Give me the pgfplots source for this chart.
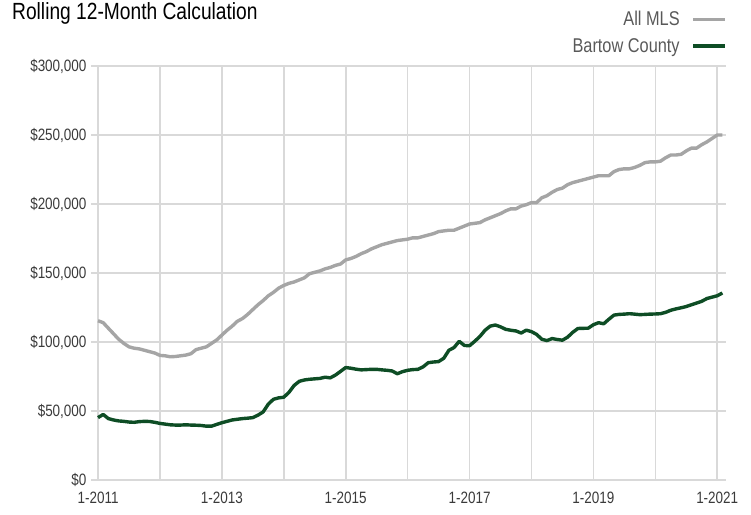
\documentclass[border=0pt]{standalone}
\usepackage{fontspec}
\setmainfont{Liberation Sans}[FakeStretch=0.82]
\usepackage{pgfplots}
\usepackage{pgfplotstable}
\pgfplotsset{compat=1.18}
\definecolor{mlsgray}{HTML}{A5A5A5}
\definecolor{bartow}{HTML}{0E4D25}
\definecolor{gridc}{HTML}{D9D9D9}
\definecolor{labc}{HTML}{3A3A3A}
\definecolor{legc}{HTML}{595959}

\pgfplotstableread{
m v
0 115400
1 114000
2 110000
3 106000
4 102000
5 99000
6 96500
7 95500
8 95000
9 94000
10 93000
11 92000
12 90300
13 90000
14 89300
15 89500
16 90000
17 90500
18 91500
19 94500
20 95500
21 96500
22 99000
23 101500
24 105000
25 108500
26 111500
27 115000
28 117000
29 120000
30 123500
31 127000
32 130000
33 133500
34 136000
35 139000
36 141000
37 142500
38 143500
39 145000
40 146500
41 149500
42 150500
43 151500
44 153000
45 154000
46 155500
47 156500
48 159500
49 160500
50 162000
51 164000
52 165500
53 167500
54 169000
55 170500
56 171500
57 172500
58 173500
59 174000
60 174500
61 175500
62 175500
63 176500
64 177500
65 178500
66 180000
67 180500
68 181000
69 181000
70 182500
71 184000
72 185500
73 186000
74 186500
75 188500
76 190000
77 191500
78 193000
79 195000
80 196500
81 196500
82 198500
83 199500
84 201000
85 201000
86 204500
87 206000
88 208500
89 210500
90 211500
91 214000
92 215500
93 216500
94 217500
95 218500
96 219500
97 220500
98 220500
99 220500
100 223500
101 225000
102 225500
103 225500
104 226500
105 228000
106 230000
107 230500
108 230500
109 231000
110 233500
111 235500
112 235500
113 236000
114 238500
115 240500
116 240500
117 243000
118 245000
119 247500
120 250000
121 250000
}\mlsdata

\pgfplotstableread{
m v
0 45200
1 47500
2 44500
3 43500
4 42800
5 42500
6 42000
7 41800
8 42300
9 42500
10 42400
11 41800
12 41000
13 40500
14 40000
15 39800
16 39800
17 40000
18 39800
19 39700
20 39500
21 39000
22 39000
23 40300
24 41500
25 42500
26 43500
27 44000
28 44500
29 44800
30 45200
31 47000
32 49300
33 55000
34 58500
35 59500
36 60000
37 63500
38 68500
39 71500
40 72500
41 73000
42 73300
43 73600
44 74500
45 74000
46 76000
47 78700
48 81500
49 81000
50 80300
51 79800
52 80000
53 80200
54 80200
55 79800
56 79500
57 79000
58 77000
59 78500
60 79500
61 80000
62 80200
63 82000
64 85000
65 85500
66 85800
67 88200
68 94000
69 96000
70 100500
71 97500
72 97300
73 100500
74 104000
75 108500
76 111500
77 112300
78 111000
79 109200
80 108500
81 108000
82 106500
83 108600
84 107500
85 105500
86 102000
87 101000
88 102500
89 101800
90 101300
91 103500
92 107000
93 109800
94 109900
95 110000
96 112500
97 114000
98 113200
99 116500
100 119500
101 120000
102 120200
103 120500
104 120200
105 119800
106 120000
107 120200
108 120300
109 120500
110 121500
111 123000
112 124000
113 124800
114 125700
115 127000
116 128200
117 129500
118 131500
119 132500
120 133500
121 135500
}\bartowdata

\begin{document}
\begin{tikzpicture}
\useasboundingbox (0,0) rectangle (751bp,515bp);
\node[anchor=base west, inner sep=0pt, font=\fontsize{23.5}{26}\selectfont] at (12bp,495bp) {Rolling 12-Month Calculation};
\begin{axis}[
  at={(91bp,35bp)}, anchor=south west,
  scale only axis,
  width=635bp, height=414bp,
  xmin=-1.36, xmax=121.7,
  ymin=0, ymax=300000,
  scaled y ticks=false,
  axis line style={draw=none},
  xtick={0,24,48,72,96,120},
  xticklabels={1-2011,1-2013,1-2015,1-2017,1-2019,1-2021},
  minor xtick={12,36,60,84,108},
  ytick={0,50000,100000,150000,200000,250000,300000},
  yticklabels={{\$0},{\$50,000},{\$100,000},{\$150,000},{\$200,000},{\$250,000},{\$300,000}},
  grid=both,
  major grid style={draw=gridc, line width=1.6bp},
  minor grid style={draw=gridc, line width=1.6bp},
  tick style={draw=none},
  ticklabel style={font=\fontsize{16.5}{18}\selectfont, text=labc},
  xticklabel style={yshift=-9bp},
  yticklabel style={xshift=-1bp},
  clip=false,
  legend plot pos=right,
  legend cell align=right,
  legend image code/.code={\draw[#1] (0bp,0bp) -- (32bp,0bp);},
  legend style={draw=none, fill=none, at={(1.002,1)}, anchor=south east, yshift=10bp,
    inner sep=0pt, row sep=7bp,
    /tikz/every odd column/.append style={column sep=10bp},
    font=\fontsize{20}{22}\selectfont, text=legc},
]
\addplot[mlsgray, line width=3.4bp, line join=round] table[x=m,y=v] {\mlsdata};
\addlegendentry{All MLS}
\addplot[bartow, line width=3.4bp, line join=round] table[x=m,y=v] {\bartowdata};
\addlegendentry{Bartow County}
\end{axis}
\end{tikzpicture}
\end{document}
